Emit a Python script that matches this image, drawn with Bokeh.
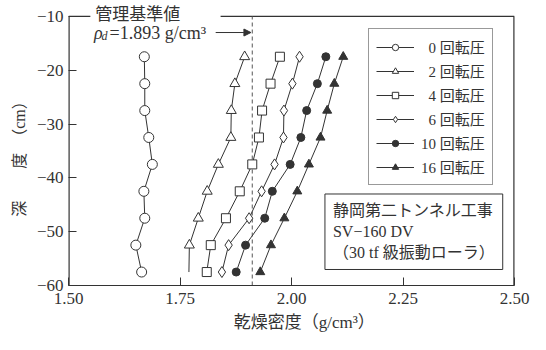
from bokeh.plotting import figure
from bokeh.models import (Range1d, FixedTicker, Legend, LegendItem,
                          Label, Arrow, NormalHead)
from bokeh.embed import file_html
from bokeh.resources import INLINE

# ---------------- data ----------------
depths = [-17.5, -22.5, -27.5, -32.5, -37.5, -42.5, -47.5, -52.5, -57.5]
dens_0 = [1.670, 1.671, 1.671, 1.680, 1.688, 1.669, 1.671, 1.651, 1.664]
dens_2 = [1.895, 1.873, 1.865, 1.864, 1.836, 1.811, 1.791, 1.771, 1.770]
dens_4 = [1.974, 1.953, 1.934, 1.927, 1.912, 1.884, 1.853, 1.819, 1.810]
dens_6 = [2.018, 2.002, 1.983, 1.982, 1.962, 1.933, 1.905, 1.859, 1.844]
dens_10 = [2.077, 2.058, 2.034, 2.021, 1.997, 1.957, 1.940, 1.897, 1.876]
dens_16 = [2.116, 2.096, 2.080, 2.065, 2.039, 2.013, 1.984, 1.954, 1.930]
series_labels = ["\u20020 回転圧", "\u20022 回転圧", "\u20024 回転圧",
                 "\u20026 回転圧", "10 回転圧", "16 回転圧"]

x_ticks = [1.50, 1.75, 2.00, 2.25, 2.50]
x_tick_labels = ["1.50", "1.75", "2.00", "2.25", "2.50"]
y_ticks = [-10, -20, -30, -40, -50, -60]
y_tick_labels = ["\u221210", "\u221220", "\u221230", "\u221240", "\u221250", "\u221260"]

control_density_drawn = 1.912
control_text = "=1.893 g/cm\u00b3"
x_title = "\u2003\u2002乾燥密度（g/cm\u00b3）"
y_title = "深\u3000\u3000度\u3000（cm）\u3000\u3000"
info_text = "静岡第二トンネル工事\nSV\u2212160 DV\n（30 tf 級振動ローラ）"

INK = "#333333"
SERIF = "'Liberation Serif', 'Noto Sans CJK JP'"

X0, X1, Y0, Y1 = 1.5, 2.5, -60, -10

p = figure(width=530, height=334, output_backend="svg", toolbar_location=None,
           x_range=Range1d(X0, X1), y_range=Range1d(Y0, -7.05),
           min_border_left=68, min_border_right=16, min_border_top=0,
           min_border_bottom=40, background_fill_color="white",
           border_fill_color="white")
p.outline_line_color = None
p.grid.visible = False

for ax, ticks, labels in ((p.xaxis[0], x_ticks, x_tick_labels),
                          (p.yaxis[0], y_ticks, y_tick_labels)):
    ax.ticker = FixedTicker(ticks=ticks)
    ax.major_label_overrides = {t: l for t, l in zip(ticks, labels)}
    ax.major_tick_in = 8
    ax.major_tick_out = 0
    ax.minor_tick_line_color = None
    ax.axis_line_color = INK
    ax.axis_line_width = 1.2
    ax.major_tick_line_color = INK
    ax.major_label_text_font = SERIF
    ax.major_label_text_font_size = "17px"
    ax.major_label_text_color = INK
    ax.axis_label_text_font = SERIF
    ax.axis_label_text_font_size = "16px"
    ax.axis_label_text_font_style = "normal"
    ax.axis_label_text_color = INK

p.xaxis[0].axis_label = x_title
p.xaxis[0].axis_label_text_font_size = "17px"
p.xaxis[0].major_label_standoff = 7
p.xaxis[0].axis_label_standoff = 6
p.yaxis[0].axis_label = y_title
p.yaxis[0].axis_line_color = None
p.yaxis[0].major_label_standoff = 5
p.yaxis[0].axis_label_standoff = 6

# frame: left and right sides up to -10, broken top border
p.segment(x0=[X0, X1], y0=[Y0, Y0], x1=[X0, X1], y1=[Y1, Y1],
          line_color=INK, line_width=2.4)
p.segment(x0=[X0, 1.841], y0=[Y1, Y1], x1=[1.549, X1], y1=[Y1, Y1],
          line_color=INK, line_width=1.2)

# control line
p.segment(x0=[control_density_drawn], y0=[Y0], x1=[control_density_drawn], y1=[Y1],
          line_color="#555555", line_width=1, line_dash="4 3")

# series
styles = [
    dict(marker="circle", size=10, fill_color="white"),
    dict(marker="triangle", size=10, fill_color="white"),
    dict(marker="square", size=9, fill_color="white"),
    dict(marker="diamond", size=11, fill_color="white"),
    dict(marker="circle", size=8, fill_color=INK),
    dict(marker="triangle", size=9, fill_color=INK),
]
all_dens = [dens_0, dens_2, dens_4, dens_6, dens_10, dens_16]
items = []
for dens, st, lab in zip(all_dens, styles, series_labels):
    ln = p.line(dens, depths, line_color=INK, line_width=1)
    n = len(dens) - 1 if dens is dens_2 else len(dens)
    sc = p.scatter(dens[:n], depths[:n], marker=st["marker"], size=st["size"],
                   fill_color=st["fill_color"], line_color=INK, line_width=1)
    items.append(LegendItem(label=lab, renderers=[ln, sc]))

legend = Legend(items=items, location=(300, 100),
                label_text_font=SERIF, label_text_font_size="15px",
                label_text_color=INK, glyph_width=38, glyph_height=16,
                label_height=16, label_standoff=7, spacing=3, padding=7,
                border_line_color=INK, border_line_width=1,
                background_fill_color="white", background_fill_alpha=1)
p.add_layout(legend)

# annotations
p.add_layout(Label(x=1.560, y=-9.6, text="管理基準値", text_font=SERIF,
                   text_font_size="17px", text_color=INK, text_baseline="middle",
                   text_align="left"))
p.add_layout(Label(x=1.557, y=-13.0, text="\u03c1", text_font=SERIF,
                   text_font_size="18px", text_font_style="italic", text_color=INK,
                   text_baseline="middle", text_align="left"))
p.add_layout(Label(x=1.574, y=-13.7, text="d", text_font=SERIF,
                   text_font_size="12px", text_font_style="italic", text_color=INK,
                   text_baseline="middle", text_align="left"))
p.add_layout(Label(x=1.592, y=-13.0, text=control_text, text_font=SERIF,
                   text_font_size="18px", text_color=INK,
                   text_baseline="middle", text_align="left"))
p.add_layout(Arrow(end=NormalHead(size=7, fill_color=INK, line_color=INK),
                   x_start=1.830, y_start=-13.0, x_end=control_density_drawn - 0.003,
                   y_end=-13.0, line_color=INK, line_width=1))

p.add_layout(Label(x=2.075, y=-43.0, text=info_text, text_font=SERIF,
                   text_font_size="16px", text_color=INK, anchor="top_left",
                   text_align="left", text_line_height=1.25, padding=8,
                   border_line_color=INK, border_line_width=1,
                   background_fill_color="white"))

open("out.html", "w").write(file_html(p, INLINE))
